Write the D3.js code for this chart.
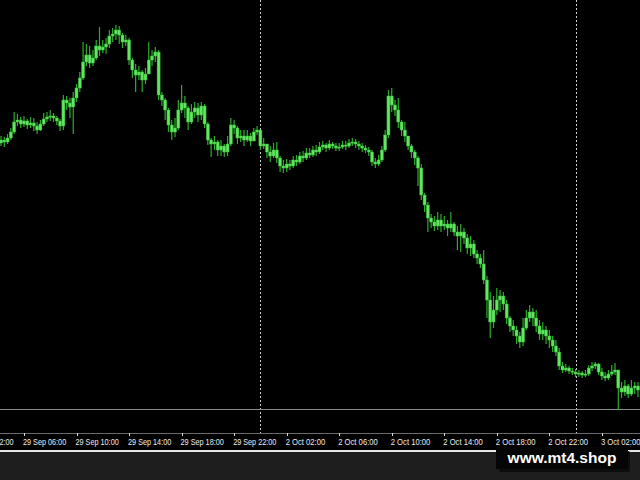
<!DOCTYPE html>
<html><head><meta charset="utf-8">
<script src="https://cdn.jsdelivr.net/npm/d3@7"></script>
<style>html,body{margin:0;padding:0;background:#1e1e1e;}svg{display:block;}</style>
</head><body>
<script>
// M15 candles (price in chart units, higher = up)
const firstOpen = 277;
const closes = [280,278,282,288,298,300,296,299,295,297,
294,290,296,301,303,304,302,299,294,320,
317,313,322,332,342,358,365,357,362,374,
370,373,376,384,386,390,385,378,380,360,
350,345,348,340,346,360,364,368,325,320,
310,295,288,292,310,317,312,298,308,312,
305,314,296,280,276,278,270,274,268,276,
295,292,282,284,280,284,279,288,290,274,
276,268,264,270,262,254,252,256,254,260,
258,264,262,267,265,270,268,273,275,272,
276,274,272,273,275,274,277,278,276,274,
272,270,268,258,256,260,270,285,324,315,
310,298,290,284,274,268,262,252,225,215,
202,198,194,200,194,196,192,196,188,184,
188,182,172,176,166,162,156,140,120,98,
110,120,124,116,102,94,90,84,78,92,
102,108,102,94,86,90,84,80,74,68,
54,50,52,49,48,46,47,45,46,52,
54,56,48,44,42,46,48,50,32,28,
34,26,32,34,30];
const highs = [284,283,286,292,308,306,303,304,301,303,
302,298,300,307,308,310,307,304,301,325,
324,322,328,336,348,378,376,374,370,380,
393,380,382,390,392,395,394,387,385,382,
362,356,354,350,352,378,370,373,370,328,
322,312,300,302,320,335,324,314,316,318,
317,318,316,298,282,284,280,280,276,284,
302,300,294,290,290,290,287,292,294,280,
282,276,274,277,278,264,260,261,260,264,
265,268,269,272,272,274,275,278,279,277,
280,278,277,277,279,279,281,282,281,279,
277,275,273,270,262,265,274,290,330,332,
320,322,300,298,284,276,270,264,256,227,
218,206,204,208,206,204,200,208,198,194,
196,192,186,184,180,170,166,170,144,128,
124,132,130,128,120,104,100,94,88,102,
110,115,112,110,100,98,94,90,84,80,
72,58,56,54,52,51,50,49,50,55,
58,58,57,52,48,50,55,57,50,38,
40,36,40,38,38];
const lows = [274,273,276,280,286,294,292,293,291,292,
289,286,289,294,298,299,298,295,289,290,
310,302,286,318,328,340,354,352,354,360,
364,367,366,372,378,380,376,372,374,355,
342,328,340,328,336,348,354,358,320,314,
300,288,280,283,290,307,302,290,296,302,
298,300,292,275,263,270,264,264,263,264,
274,286,276,278,274,278,274,280,285,270,
271,262,258,262,257,248,247,248,250,252,
254,256,258,260,262,263,264,266,270,268,
270,271,269,269,271,270,272,274,272,270,
268,267,264,254,252,254,258,268,282,308,
304,292,284,278,270,262,255,234,220,208,
188,192,189,190,188,190,184,188,184,170,
168,176,166,164,162,156,152,136,102,82,
92,105,108,110,96,88,84,76,72,74,
90,98,94,88,80,80,76,72,68,64,
50,47,48,46,45,43,43,42,43,44,
49,51,45,40,39,40,44,45,10,22,
24,22,24,26,23];
// time axis labels and their bar index (bar 0 = 29 Sep 04:15)
const tickLabels = ["29 Sep 02:00","29 Sep 06:00","29 Sep 10:00","29 Sep 14:00","29 Sep 18:00","29 Sep 22:00",
  "2 Oct 02:00","2 Oct 06:00","2 Oct 10:00","2 Oct 14:00","2 Oct 18:00","2 Oct 22:00","3 Oct 02:00"];
const tickBars = [-9,7,23,39,55,71,87,103,119,135,151,167,183];
const daySeparatorBars = [79,175];

const W = 640, H = 480;
const plotBottom = 433;
const svg = d3.select("body").append("svg").attr("width", W).attr("height", H);
svg.append("rect").attr("width", W).attr("height", H).attr("fill", "#1e1e1e");
svg.append("rect").attr("width", W).attr("height", 450).attr("fill", "#000");

const x = d3.scaleLinear().domain([0, 194]).range([1, 638]);
const y = d3.scaleLinear().domain([10, 420]).range([410, 0]);

const bars = closes.map((c, i) => ({
  i, o: i === 0 ? firstOpen : closes[i - 1], c, h: highs[i], l: lows[i]
}));

// day separators
svg.selectAll("line.sep").data(daySeparatorBars).enter().append("line")
  .attr("x1", d => Math.round(x(d)) + 0.5).attr("x2", d => Math.round(x(d)) + 0.5)
  .attr("y1", 0).attr("y2", plotBottom)
  .attr("stroke", "#d0d0d0").attr("stroke-width", 1).attr("stroke-dasharray", "2,2");

// horizontal gray level line
svg.append("line").attr("x1", 0).attr("x2", W).attr("y1", 409.5).attr("y2", 409.5)
  .attr("stroke", "#8a8a8a").attr("stroke-width", 1.2);

const g = svg.append("g");
g.selectAll("line.wick").data(bars).enter().append("line")
  .attr("x1", d => x(d.i)).attr("x2", d => x(d.i))
  .attr("y1", d => y(Math.max(d.h, d.o, d.c))).attr("y2", d => y(Math.min(d.l, d.o, d.c)))
  .attr("stroke", "#2aae2a").attr("stroke-width", 1.2);
g.selectAll("rect.body").data(bars).enter().append("rect")
  .attr("x", d => x(d.i) - 1.5).attr("width", 3)
  .attr("y", d => y(Math.max(d.o, d.c)))
  .attr("height", d => Math.max(1.2, Math.abs(y(d.o) - y(d.c))))
  .attr("fill", "#66e466").attr("stroke", "#30b830").attr("stroke-width", 0.5);

// time axis
svg.append("line").attr("x1", 0).attr("x2", W).attr("y1", plotBottom + 0.5).attr("y2", plotBottom + 0.5)
  .attr("stroke", "#6a6a6a").attr("stroke-width", 1);
const ticks = tickBars.map((b, k) => ({b, label: tickLabels[k]}));
svg.selectAll("line.tick").data(ticks).enter().append("line")
  .attr("x1", d => Math.round(x(d.b)) + 0.5).attr("x2", d => Math.round(x(d.b)) + 0.5)
  .attr("y1", plotBottom).attr("y2", plotBottom + 3)
  .attr("stroke", "#d8d8d8").attr("stroke-width", 1);
svg.selectAll("text.tl").data(ticks).enter().append("text")
  .attr("x", d => x(d.b) - 1).attr("y", 444.5)
  .attr("fill", "#ececec").attr("font-family", "'Liberation Sans', Arial, sans-serif")
  .attr("font-size", 9)
  .attr("textLength", d => d.label.length * 3.6).attr("lengthAdjust", "spacingAndGlyphs")
  .text(d => d.label);

// bottom white border
svg.append("rect").attr("x", 0).attr("y", 450).attr("width", W).attr("height", 2).attr("fill", "#e8e8e8");

// watermark
svg.append("rect").attr("x", 499).attr("y", 451).attr("width", 131).attr("height", 21).attr("fill", "#0d0d0d").attr("rx", 2);
svg.append("rect").attr("x", 496).attr("y", 447).attr("width", 132).attr("height", 22).attr("fill", "#050505");
svg.append("text").attr("x", 562).attr("y", 462.5).attr("text-anchor", "middle")
  .attr("fill", "#ffffff").attr("font-family", "'Liberation Sans', Arial, sans-serif")
  .attr("font-weight", "bold").attr("font-size", 15.5).text("www.mt4.shop");
</script>
</body></html>
